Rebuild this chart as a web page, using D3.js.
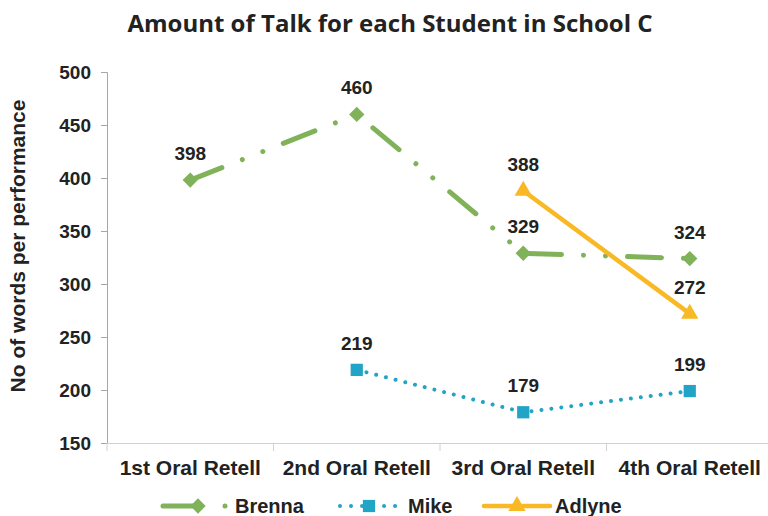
<!DOCTYPE html>
<html>
<head>
<meta charset="utf-8">
<script src="https://cdn.jsdelivr.net/npm/d3@7"></script>
<style>
  body { margin: 0; background: #fff; }
  svg text { font-family: "Liberation Sans", Arial, sans-serif; font-weight: bold; fill: #222; }
</style>
</head>
<body>
<div id="chart"></div>
<script>
// data
var categories = ["1st Oral Retell", "2nd Oral Retell", "3rd Oral Retell", "4th Oral Retell"];
var brenna = [398, 460, 329, 324];
var mike = [null, 219, 179, 199];
var adlyne = [null, null, 388, 272];
var yTicks = [150, 200, 250, 300, 350, 400, 450, 500];

var width = 768, height = 516;
var mLeft = 107, mRight = 773, mTop = 72, mBottom = 443;

var svg = d3.select("#chart").append("svg")
    .attr("width", width)
    .attr("height", height);

var x = d3.scaleBand().domain(categories).range([mLeft, mRight]);
var y = d3.scaleLinear().domain([150, 500]).range([mBottom, mTop]);

// title
svg.append("text")
    .attr("x", 390).attr("y", 32)
    .attr("text-anchor", "middle")
    .style("font-family", "'Open Sans', sans-serif")
    .style("font-size", "24px")
    .text("Amount of Talk for each Student in School C");

// y axis
var yAxis = svg.append("g")
    .attr("transform", "translate(" + mLeft + ",0)")
    .call(d3.axisLeft(y).tickValues(yTicks).tickSize(6).tickPadding(10));
yAxis.select(".domain").attr("stroke", "#a6a6a6");
yAxis.selectAll(".tick line").attr("stroke", "#a6a6a6");
yAxis.selectAll("text").style("font-size", "19px").attr("fill", "#222");

// x axis
var xAxis = svg.append("g")
    .attr("transform", "translate(0," + mBottom + ")")
    .call(d3.axisBottom(x).tickSize(0).tickPadding(17));
xAxis.select(".domain").attr("stroke", "#d0d0d0");
xAxis.selectAll("text").style("font-size", "21px").attr("fill", "#222");
xAxis.selectAll(".edge").data(d3.range(categories.length + 1)).enter()
    .append("line")
    .attr("x1", function(i){ return mLeft + i * x.step(); })
    .attr("x2", function(i){ return mLeft + i * x.step(); })
    .attr("y1", 0).attr("y2", 8)
    .attr("stroke", "#d0d0d0");

// y axis title
svg.append("text")
    .attr("transform", "translate(25,246) rotate(-90)")
    .attr("text-anchor", "middle")
    .style("font-size", "21px")
    .text("No of words per performance");

var series = [
  {name: "Brenna", values: brenna, color: "#80b25a", width: 5, dash: "34 22 0.01 22 0.01 22", marker: "diamond"},
  {name: "Mike", values: mike, color: "#22a4c6", width: 4, dash: "0.01 10", marker: "square"},
  {name: "Adlyne", values: adlyne, color: "#f9b925", width: 4.5, dash: null, marker: "triangle"}
];

var cx = function(i){ return x(categories[i]) + x.bandwidth() / 2; };

var symbolFor = function(m){
  if (m == "diamond") return d3.symbol().type(d3.symbolDiamond2).size(150);
  if (m == "square") return d3.symbol().type(d3.symbolSquare).size(150);
  return d3.symbol().type(d3.symbolTriangle).size(130);
};

series.forEach(function(s){
  var pts = s.values.map(function(v, i){ return {i: i, v: v}; })
      .filter(function(d){ return d.v != null; });
  var line = d3.line()
      .x(function(d){ return cx(d.i); })
      .y(function(d){ return y(d.v); });
  svg.append("path")
      .attr("d", line(pts))
      .attr("fill", "none")
      .attr("stroke", s.color)
      .attr("stroke-width", s.width)
      .attr("stroke-linecap", "round")
      .attr("stroke-dasharray", s.dash);
  svg.selectAll(null).data(pts).enter()
      .append("path")
      .attr("d", symbolFor(s.marker)())
      .attr("transform", function(d){ return "translate(" + cx(d.i) + "," + y(d.v) + ")"; })
      .attr("fill", s.color);
  svg.selectAll(null).data(pts).enter()
      .append("text")
      .attr("x", function(d){ return cx(d.i); })
      .attr("y", function(d){ return y(d.v) - 20; })
      .attr("text-anchor", "middle")
      .style("font-size", "19px")
      .text(function(d){ return d.v; });
});

// legend
var legendX = [163, 338, 484];
var legend = svg.selectAll(".legend").data(series).enter()
    .append("g")
    .attr("transform", function(d, i){ return "translate(" + legendX[i] + ",506)"; });
legend.append("line")
    .attr("x1", function(d, i){ return i == 1 ? 2 : 0; })
    .attr("x2", function(d, i){ return i == 0 ? 64 : i == 1 ? 60 : 66; })
    .attr("stroke", function(d){ return d.color; })
    .attr("stroke-width", function(d){ return d.width; })
    .attr("stroke-linecap", "round")
    .attr("stroke-dasharray", function(d, i){ return i == 0 ? "36 26 0.01 30" : i == 1 ? "0.01 11" : null; });
legend.append("path")
    .attr("d", function(d){ return symbolFor(d.marker)(); })
    .attr("transform", function(d, i){ return "translate(" + (i == 0 ? 35 : i == 1 ? 31 : 33) + ",0)"; })
    .attr("fill", function(d){ return d.color; });
legend.append("text")
    .attr("x", function(d, i){ return i == 0 ? 72 : i == 1 ? 70 : 71; })
    .attr("y", 7)
    .style("font-size", "20px")
    .text(function(d){ return d.name; });
</script>
</body>
</html>
